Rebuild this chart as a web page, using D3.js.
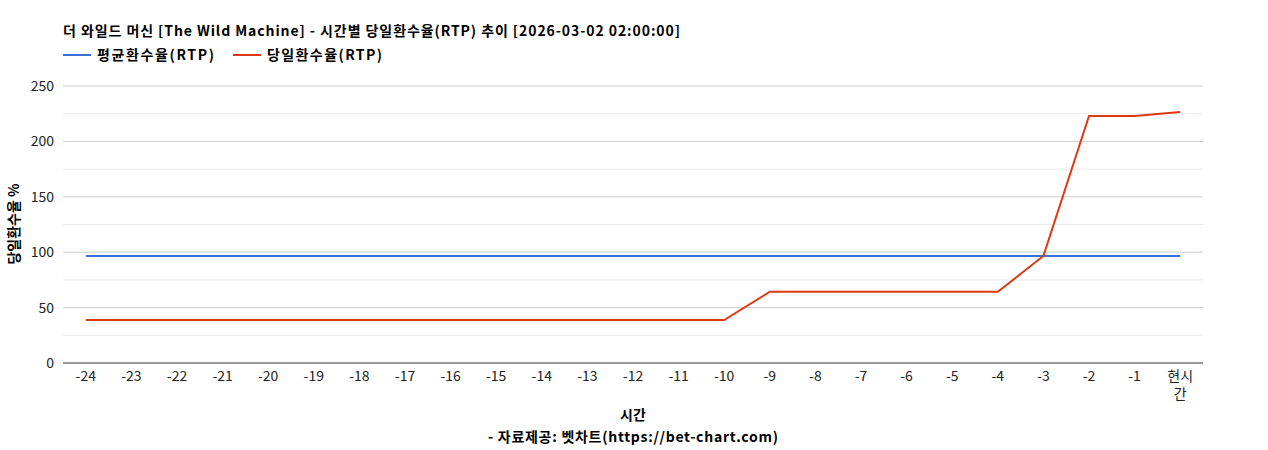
<!DOCTYPE html>
<html><head><meta charset="utf-8">
<script src="https://cdn.jsdelivr.net/npm/d3@7"></script>
<style>body{margin:0;background:#fff}text{font-family:"Noto Sans CJK KR","Noto Sans",sans-serif}</style>
</head><body><svg id="c" width="1268" height="450"></svg>
<script>
const categories = ["-24","-23","-22","-21","-20","-19","-18","-17","-16","-15","-14","-13","-12","-11","-10","-9","-8","-7","-6","-5","-4","-3","-2","-1","현시간"];
const avgRTP = Array(25).fill(96.6);
const dayRTP = [38.8,38.8,38.8,38.8,38.8,38.8,38.8,38.8,38.8,38.8,38.8,38.8,38.8,38.8,38.8,64.3,64.3,64.3,64.3,64.3,64.3,96.6,223,223,226.5];
const yTicks = [0,50,100,150,200,250];
const minorTicks = [25,75,125,175,225];

const svg = d3.select("#c");
const L=63,R=1203,T=86,B=363;
const x = d3.scaleBand().domain(categories).range([L,R]);
const y = d3.scaleLinear().domain([0,250]).range([B,T]);
const cx = d => x(d)+x.bandwidth()/2;

svg.selectAll(".mg").data(minorTicks).join("line").attr("x1",L).attr("x2",R)
  .attr("y1",d=>y(d)).attr("y2",d=>y(d)).attr("stroke","#ebebeb");
svg.selectAll(".g").data(yTicks.slice(1)).join("line").attr("x1",L).attr("x2",R)
  .attr("y1",d=>y(d)).attr("y2",d=>y(d)).attr("stroke","#cccccc");
svg.append("line").attr("x1",L).attr("x2",R).attr("y1",B).attr("y2",B).attr("stroke","#333");
svg.selectAll(".yl").data(yTicks).join("text").attr("x",L-9).attr("y",d=>y(d)+5)
  .attr("text-anchor","end").attr("font-size",14).attr("fill","#222").text(d=>d);
categories.forEach(c=>{
  const t=svg.append("text").attr("x",cx(c)).attr("text-anchor","middle").attr("font-size",14).attr("fill","#222");
  if(c==="현시간"){t.attr("y",381);t.append("tspan").attr("x",cx(c)).text("현시");t.append("tspan").attr("x",cx(c)).attr("dy",18).text("간");}
  else t.attr("y",381).text(c);
});
const line = d3.line().x((d,i)=>cx(categories[i])).y(d=>y(d));
svg.append("path").attr("d",line(avgRTP)).attr("fill","none").attr("stroke","#3c6fd8").attr("stroke-width",2);
svg.append("path").attr("d",line(dayRTP)).attr("fill","none").attr("stroke","#dc3912").attr("stroke-width",2);

svg.append("text").attr("x",63).attr("y",36).attr("font-size",14).attr("font-weight","bold").attr("fill","#000")
  .attr("textLength",617).attr("lengthAdjust","spacing")
  .text("더 와일드 머신 [The Wild Machine] - 시간별 당일환수율(RTP) 추이 [2026-03-02 02:00:00]");
[["평균환수율(RTP)","#3c6fd8",63,117],["당일환수율(RTP)","#dc3912",233,115]].forEach(([t,c,x0,w])=>{
  svg.append("line").attr("x1",x0).attr("x2",x0+28).attr("y1",55).attr("y2",55).attr("stroke",c).attr("stroke-width",2);
  svg.append("text").attr("x",x0+34).attr("y",60).attr("font-size",14).attr("font-weight","bold")
    .attr("textLength",w).attr("lengthAdjust","spacing").text(t);
});
svg.append("text").attr("x",633).attr("y",420).attr("text-anchor","middle").attr("font-size",14).attr("font-weight","bold").text("시간");
svg.append("text").attr("x",633).attr("y",442).attr("text-anchor","middle").attr("font-size",14).attr("font-weight","bold")
  .attr("textLength",290).attr("lengthAdjust","spacing").text("- 자료제공: 벳차트(https://bet-chart.com)");
svg.append("text").attr("transform","translate(19,224) rotate(-90)").attr("text-anchor","middle").attr("font-size",14).attr("font-weight","bold").text("당일환수율 %");
</script></body></html>
